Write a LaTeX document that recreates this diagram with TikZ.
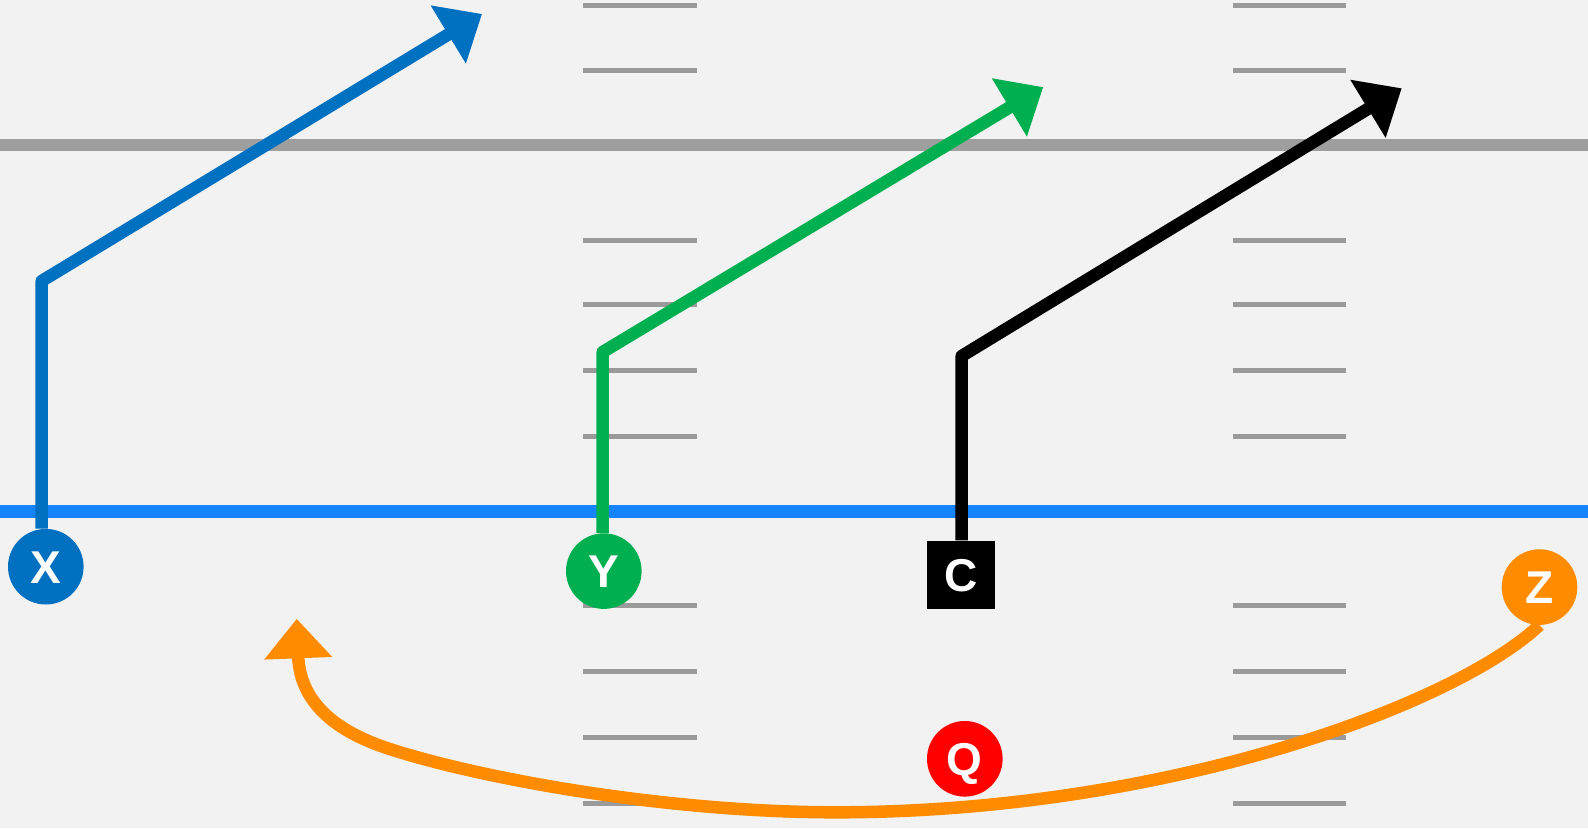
\documentclass[tikz,border=0pt]{standalone}
\usepackage{fontspec}
\setmainfont{Liberation Sans}
\usetikzlibrary{arrows.meta}
\definecolor{bgc}{HTML}{F2F2F2}
\definecolor{linegray}{HTML}{9E9E9E}
\definecolor{hashgray}{HTML}{9A9A9A}
\definecolor{scrimblue}{HTML}{1684FF}
\definecolor{xblue}{HTML}{0070C0}
\definecolor{ygreen}{HTML}{00B050}
\definecolor{zorange}{HTML}{FF8C00}
\definecolor{qred}{HTML}{FF0000}
\pgfdeclarelayer{field}
\pgfdeclarelayer{routes}
\pgfsetlayers{field,routes,main}
\begin{document}
\begin{tikzpicture}[x=1pt,y=-1pt,
  route/.style={line width=12.5pt, line join=round},
  tipped/.style={-{Triangle[length=39.5pt,width=65.5pt]}},
  hashline/.style={draw=hashgray, line width=5pt},
  fieldline/.style={line width=12.5pt},
  lbl/.style={inner sep=0pt, text=white, font=\fontsize{46}{46}\selectfont\bfseries, text height=33pt, text depth=0pt},
  player/.style={lbl, circle, minimum size=75.6pt},
  centerbox/.style={lbl, rectangle, minimum size=68.3pt}
]
\useasboundingbox (0,0) rectangle (1588,828);
\begin{pgfonlayer}{field}
\fill[bgc] (0,0) rectangle (1588,828);
\foreach \yy in {5.1,70.9,240,304.9,370.7,436.5,605.7,671.5,737.3,803.2} {
  \draw[hashline] (583.4,\yy) -- (696.8,\yy);
  \draw[hashline] (1232.6,\yy) -- (1346,\yy);
}
\draw[fieldline, draw=linegray] (0,144.8) -- (1588,144.8);
\draw[fieldline, draw=scrimblue] (0,511.3) -- (1588,511.3);
\end{pgfonlayer}

\node[player, fill=xblue] (X) at (45.8,566.7) {X};
\node[player, fill=ygreen] (Y) at (603.8,571.1) {Y};
\node[centerbox, fill=black] (C) at (960.8,574.8) {C};
\node[player, fill=zorange] (Z) at (1539.5,587.1) {Z};
\node[player, fill=qred] (Q) at (964.8,758.8) {Q};

\coordinate (xc) at (41.7,281);
\coordinate (xt) at (482,14);
\coordinate (yc) at (602.7,352);
\coordinate (yt) at (1043.2,87.1);
\coordinate (cc) at (961.7,356);
\coordinate (ct) at (1401.7,88.3);
\coordinate (zm) at (836.6,812.3);
\coordinate (zp) at (384.9,747.4);
\coordinate (zt) at (296.7,618.8);

\begin{pgfonlayer}{routes}
\draw[route, tipped, xblue] (X.north -| xc) -- (xc) -- (xt);
\draw[route, tipped, ygreen] (Y.north -| yc) -- (yc) -- (yt);
\draw[route, tipped, black] (C.north -| cc) -- (cc) -- (ct);
\draw[route, tipped, zorange] (Z.south) .. controls (1455,705) and (1164.7,812.3) .. (zm)
  .. controls (658.3,812.3) and (470,776) .. (zp)
  .. controls (330,728.5) and (299.8,698.8) .. (zt);
\end{pgfonlayer}
\end{tikzpicture}
\end{document}
